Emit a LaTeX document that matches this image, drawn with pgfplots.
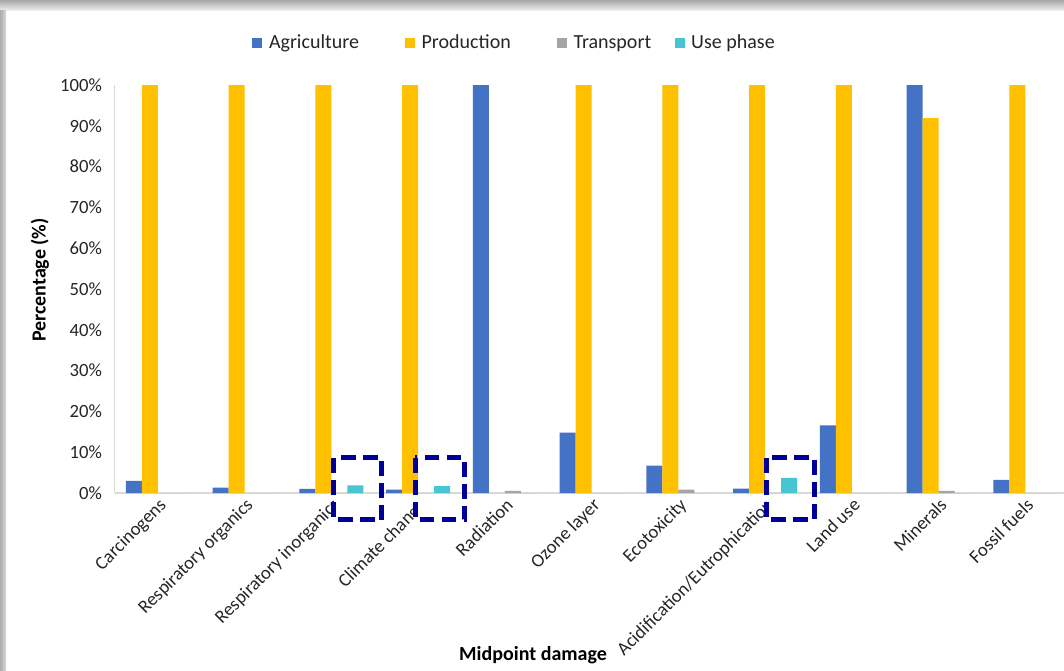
\documentclass[border=0pt]{standalone}
\usepackage{fontspec}
\setmainfont{Carlito}
\usepackage{pgfplots}
\pgfplotsset{compat=1.18}
\definecolor{agri}{HTML}{4472C4}
\definecolor{prod}{HTML}{FFC000}
\definecolor{trans}{HTML}{A5A5A5}
\definecolor{usep}{HTML}{47C5D3}
\definecolor{navy}{HTML}{000099}
\definecolor{axgray}{HTML}{D9D9D9}
\begin{document}
\begin{tikzpicture}
\useasboundingbox (0,0) rectangle (798pt,-503.25pt);
\fill[white] (0,0) rectangle (798pt,-503.25pt);
\shade[top color=gray!70, bottom color=gray!15] (0,0) rectangle (798pt,-7.5pt);
\shade[left color=gray!65, right color=gray!30] (0,-7.5pt) rectangle (4.5pt,-503.25pt);
\begin{axis}[
  at={(85.95pt,-369.75pt)}, anchor=south west,
  scale only axis, width=712.05pt, height=306pt,
  ybar=0pt, bar width=0.1845,
  xmin=-0.5, xmax=10.444, ymin=0, ymax=100,
  xtick={0,...,10},
  xticklabels={Carcinogens,Respiratory organics,Respiratory inorganics,Climate change,Radiation,Ozone layer,Ecotoxicity,Acidification/Eutrophication,Land use,Minerals,Fossil fuels},
  ytick={0,10,...,100},
  yticklabel={\pgfmathprintnumber{\tick}\%},
  /pgf/number format/assume math mode=true,
  axis x line*=bottom, axis y line*=left,
  axis line style={draw=axgray, line width=0.9pt},
  major tick length=0pt, tick style={draw=none},
  yticklabel style={font=\fontsize{14}{16}\selectfont, text=black!85, xshift=-6pt},
  xticklabel style={font=\fontsize{14}{16}\selectfont, text=black!85, rotate=45, anchor=north east, inner sep=2pt},
  xlabel={\textbf{Midpoint damage}},
  xlabel style={font=\fontsize{15}{18}\selectfont, at={(axis description cs:0.4407,-0.397)}, anchor=center},
  ylabel={\textbf{Percentage (\%)}},
  ylabel style={font=\fontsize{15}{18}\selectfont, at={(axis description cs:-0.0786,0.522)}, anchor=center},
  legend style={at={(axis description cs:0.4216,1.103)}, anchor=center, legend columns=-1, draw=none, fill=none,
    font=\fontsize{15}{18}\selectfont,
    /tikz/every odd column/.append style={column sep=3pt},
    /tikz/every even column/.append style={column sep=32.5pt},
    text=black!85},
  legend image code/.code={\fill[#1] (0pt,-3.75pt) rectangle (7.5pt,3.75pt);},
]
\addplot[fill=agri, draw=none] coordinates {(0,3.0) (1,1.3) (2,1.0) (3,0.8) (4,100) (5,14.8) (6,6.7) (7,1.1) (8,16.6) (9,100) (10,3.2)};
\addplot[fill=prod, draw=none] coordinates {(0,100) (1,100) (2,100) (3,100) (4,0) (5,100) (6,100) (7,100) (8,100) (9,91.9) (10,100)};
\addplot[fill=trans, draw=none] coordinates {(0,0) (1,0) (2,0) (3,0) (4,0.5) (5,0) (6,0.8) (7,0) (8,0) (9,0.5) (10,0)};
\addplot[fill=usep, draw=none] coordinates {(0,0) (1,0) (2,1.9) (3,1.7) (4,0) (5,0) (6,0) (7,3.7) (8,0) (9,0) (10,0)};
\legend{Agriculture,Production,Transport\hspace*{-17pt},Use phase}
\coordinate (a1) at (axis cs:2.029,8.58); \coordinate (b1) at (axis cs:2.582,-6.6); \coordinate (c1) at (axis cs:2.029,-0.5);
\coordinate (a2) at (axis cs:2.968,8.58); \coordinate (b2) at (axis cs:3.533,-6.6); \coordinate (c2) at (axis cs:2.968,-0.5);
\coordinate (a3) at (axis cs:7.020,8.58); \coordinate (b3) at (axis cs:7.563,-6.6); \coordinate (c3) at (axis cs:7.020,-0.5);
\end{axis}
\foreach \i in {1,2,3}{
  \fill[white] (c\i) rectangle (b\i);
  \draw[navy, line width=3.75pt, dash pattern=on 11pt off 5.5pt] (a\i) rectangle (b\i);
}
\end{tikzpicture}
\end{document}
